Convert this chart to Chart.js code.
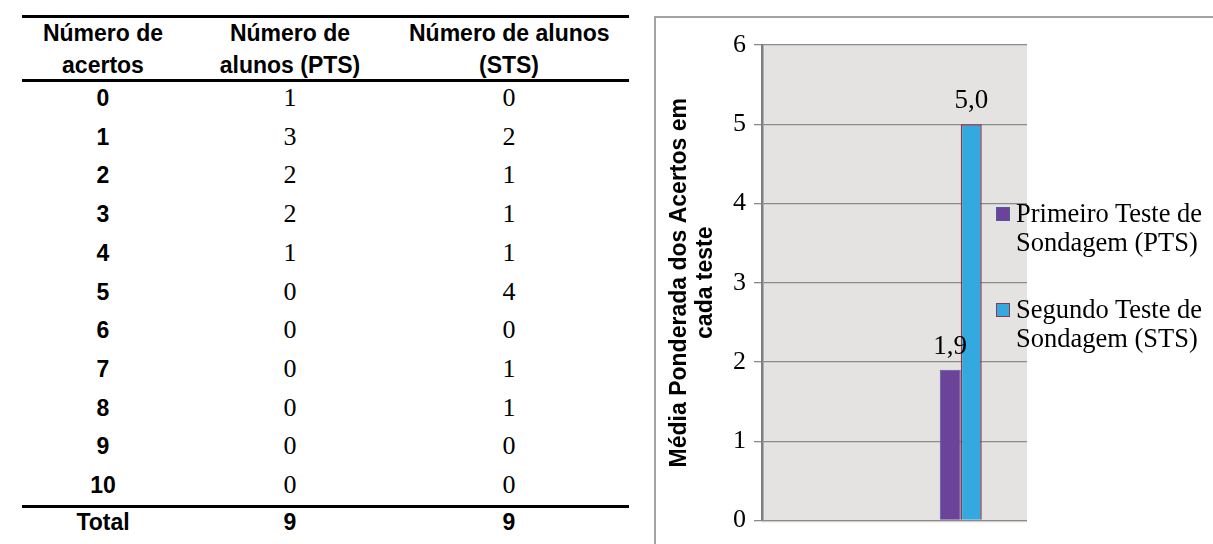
<!DOCTYPE html>
<html lang="pt">
<head>
<meta charset="utf-8">
<title>Número de acertos e média ponderada</title>
<script src="https://cdn.jsdelivr.net/npm/chart.js@4.4.1/dist/chart.umd.min.js"></script>
<style>
  html, body { margin: 0; padding: 0; background: #fff; }
  body { width: 1213px; height: 544px; position: relative; overflow: hidden; }
  .rule { position: absolute; left: 22px; width: 607px; height: 3px; background: #000; }
  .cell { position: absolute; width: 200px; text-align: center; color: #000; white-space: nowrap; }
  .head { font: bold 23px/32px "Liberation Sans", Arial, sans-serif; }
  .bold { font: bold 23px "Liberation Sans", Arial, sans-serif; }
  .serif { font: 26px "Liberation Serif", "Times New Roman", serif; }
  #frame { position: absolute; left: 654px; top: 16px; width: 700px; height: 700px;
           border-left: 2px solid #a3a3a3; border-top: 2px solid #a3a3a3; }
  #chartBox { position: absolute; left: 655px; top: 17px; width: 558px; height: 527px; }
  #legend { position: absolute; left: 996px; top: 199px; width: 217px;
            font: 26.5px/29px "Liberation Serif", "Times New Roman", serif; color: #000; }
  .item { position: relative; padding-left: 20px; width: 197px; margin-bottom: 38px; }
  .swatch { position: absolute; left: 0; top: 8px; width: 12px; height: 12px; }
</style>
</head>
<body>
<div id="table"></div>
<div id="frame"></div>
<div id="chartBox"><canvas id="grafico" width="558" height="527"></canvas></div>
<div id="legend"></div>

<script>
// Distribuição dos acertos nos dois testes de sondagem
const cabecalhos = [
  ['Número de', 'acertos'],
  ['Número de', 'alunos (PTS)'],
  ['Número de alunos', '(STS)']
];
const acertos = ['0', '1', '2', '3', '4', '5', '6', '7', '8', '9', '10'];
const alunosPTS = [1, 3, 2, 2, 1, 0, 0, 0, 0, 0, 0];
const alunosSTS = [0, 2, 1, 1, 1, 4, 0, 1, 1, 0, 0];
const totais = ['Total', 9, 9];

// Média ponderada dos acertos em cada teste
const categorias = ['', 'Média'];
const mediaPTS = [null, 1.9];
const mediaSTS = [null, 5.0];
const rotulosSeries = ['Primeiro Teste de Sondagem (PTS)', 'Segundo Teste de Sondagem (STS)'];
const tituloEixoY = ['Média Ponderada dos Acertos em', 'cada teste'];
const marcasEixoY = [0, 1, 2, 3, 4, 5, 6];

// ---- tabela ----
const tabela = document.getElementById('table');
const centrosColunas = [103, 290, 509];
function celula(texto, cx, cy, classe, altura) {
  const d = document.createElement('div');
  d.className = 'cell ' + classe;
  d.style.left = (cx - 100) + 'px';
  d.style.top = (cy - altura / 2) + 'px';
  d.style.height = altura + 'px';
  d.style.lineHeight = altura + 'px';
  d.textContent = texto;
  tabela.appendChild(d);
}
function regua(y) {
  const r = document.createElement('div');
  r.className = 'rule';
  r.style.top = y + 'px';
  tabela.appendChild(r);
}
regua(15); regua(79); regua(505);
cabecalhos.forEach((linhas, c) => {
  const d = document.createElement('div');
  d.className = 'cell head';
  d.style.left = (centrosColunas[c] - 100) + 'px';
  d.style.top = '17px';
  d.innerHTML = linhas.join('<br>');
  tabela.appendChild(d);
});
acertos.forEach((a, i) => {
  const cy = 98 + i * 38.7;
  celula(a, centrosColunas[0], cy, 'bold', 38);
  celula(String(alunosPTS[i]), centrosColunas[1], cy, 'serif', 38);
  celula(String(alunosSTS[i]), centrosColunas[2], cy, 'serif', 38);
});
totais.forEach((t, c) => celula(String(t), centrosColunas[c], 522, 'bold', 30));

// ---- gráfico ----
const cores = [
  { fill: '#6b4399', border: '#4d5aa6' },
  { fill: '#33a9e0', border: '#8c3a4b' }
];
const fmt = v => v.toFixed(1).replace('.', ',');

const fundoPlot = {
  id: 'fundoPlot',
  beforeDraw(chart) {
    const { ctx, chartArea: a } = chart;
    ctx.save();
    ctx.fillStyle = '#e4e3e2';
    ctx.fillRect(a.left, a.top, a.right - a.left, a.bottom - a.top + 2);
    ctx.restore();
  }
};
const rotulosValores = {
  id: 'rotulosValores',
  afterDatasetsDraw(chart) {
    const ctx = chart.ctx;
    ctx.save();
    ctx.font = '27px "Liberation Serif", "Times New Roman", serif';
    ctx.fillStyle = '#000';
    ctx.textAlign = 'center';
    ctx.textBaseline = 'middle';
    chart.data.datasets.forEach((ds, di) => {
      chart.getDatasetMeta(di).data.forEach((bar, i) => {
        const v = ds.data[i];
        if (v === null || v === undefined) return;
        ctx.fillText(fmt(v), bar.x, bar.y - 23);
      });
    });
    ctx.restore();
  }
};

const grafico = new Chart(document.getElementById('grafico'), {
  type: 'bar',
  data: {
    labels: categorias,
    datasets: [
      { label: rotulosSeries[0], data: mediaPTS, backgroundColor: cores[0].fill,
        borderColor: cores[0].border, borderWidth: 1 },
      { label: rotulosSeries[1], data: mediaSTS, backgroundColor: cores[1].fill,
        borderColor: cores[1].border, borderWidth: 1.5 }
    ]
  },
  options: {
    responsive: false,
    animation: false,
    devicePixelRatio: 1,
    categoryPercentage: 0.317,
    barPercentage: 1,
    layout: { padding: { left: 0, right: 186, top: 28, bottom: 18 } },
    plugins: { legend: { display: false }, tooltip: { enabled: false } },
    scales: {
      x: {
        type: 'category',
        ticks: { display: false },
        grid: { display: false },
        border: { display: false },
        afterFit: s => { s.height = 0; }
      },
      y: {
        min: marcasEixoY[0],
        max: marcasEixoY[marcasEixoY.length - 1],
        afterBuildTicks: s => { s.ticks = marcasEixoY.map(v => ({ value: v })); },
        ticks: {
          padding: 8, color: '#000',
          font: { family: '"Liberation Serif", "Times New Roman", serif', size: 26 }
        },
        grid: { color: '#8a8a8a', lineWidth: 1.3, tickLength: 8, drawTicks: true },
        border: { color: '#7f7f7f', width: 2.5 },
        title: {
          display: true, text: tituloEixoY, color: '#000',
          font: { family: '"Liberation Sans", Arial, sans-serif', weight: 'bold', size: 23, lineHeight: 1.13 },
          padding: { top: 12, bottom: 0 }
        },
        afterFit: s => { s.width = 107; }
      }
    }
  },
  plugins: [fundoPlot, rotulosValores]
});

// ---- legenda ----
const legenda = document.getElementById('legend');
grafico.data.datasets.forEach(ds => {
  const item = document.createElement('div');
  item.className = 'item';
  const q = document.createElement('span');
  q.className = 'swatch';
  q.style.background = ds.backgroundColor;
  q.style.border = '1px solid ' + ds.borderColor;
  item.appendChild(q);
  item.appendChild(document.createTextNode(ds.label));
  legenda.appendChild(item);
});
</script>
</body>
</html>
